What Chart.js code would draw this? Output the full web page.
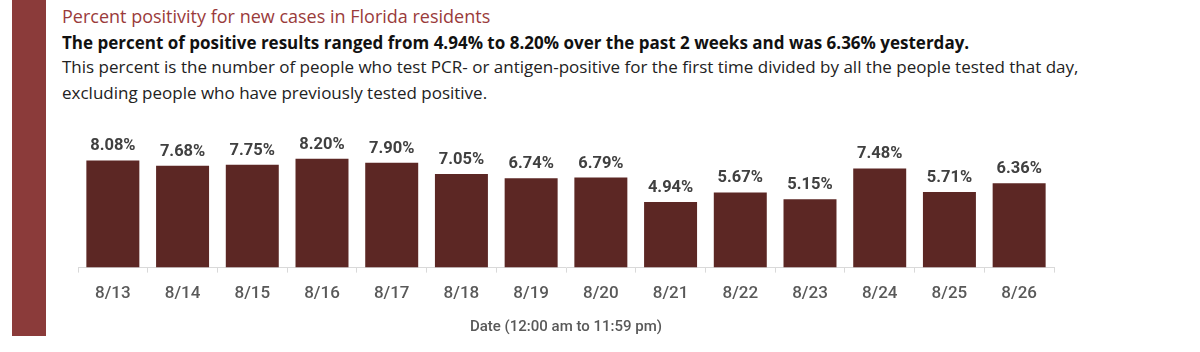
<!DOCTYPE html>
<html>
<head>
<meta charset="utf-8">
<script src="https://cdn.jsdelivr.net/npm/chart.js@4.4.1/dist/chart.umd.min.js"></script>
<style>
  html, body { margin: 0; padding: 0; background: #fff; }
  body { width: 1200px; height: 352px; position: relative; overflow: hidden; font-family: "Open Sans", Roboto, sans-serif; }
  #side { position: absolute; left: 12px; top: 0; width: 34px; height: 336px; background: #8b3b3a; }
  .line { position: absolute; left: 62px; white-space: nowrap; line-height: 1; }
  #t1 { top: 7px; font-size: 18px; color: #9a3b3b; }
  #t2 { top: 34px; font-size: 17px; font-weight: bold; color: #111; }
  #t3 { top: 58px; font-size: 17px; color: #222; }
  #t4 { top: 84px; font-size: 17px; color: #222; }
  #wrap { position: absolute; left: 0; top: 0; width: 1200px; height: 352px; }
</style>
</head>
<body>
<div id="side"></div>
<div class="line" id="t1">Percent positivity for new cases in Florida residents</div>
<div class="line" id="t2">The percent of positive results ranged from 4.94% to 8.20% over the past 2 weeks and was 6.36% yesterday.</div>
<div class="line" id="t3">This percent is the number of people who test PCR- or antigen-positive for the first time divided by all the people tested that day,</div>
<div class="line" id="t4">excluding people who have previously tested positive.</div>
<div id="wrap"><canvas id="myChart" width="1200" height="352"></canvas></div>
<script>
const labels = ['8/13', '8/14', '8/15', '8/16', '8/17', '8/18', '8/19', '8/20', '8/21', '8/22', '8/23', '8/24', '8/25', '8/26'];
const positivity = [8.08, 7.68, 7.75, 8.20, 7.90, 7.05, 6.74, 6.79, 4.94, 5.67, 5.15, 7.48, 5.71, 6.36];
const axisTitle = 'Date (12:00 am to 11:59 pm)';

// labels above the bars, no datalabels plugin available
const barLabels = {
  id: 'barLabels',
  afterDatasetsDraw(chart) {
    const ctx = chart.ctx;
    ctx.save();
    ctx.font = 'bold 16.5px Roboto';
    ctx.fillStyle = '#404040';
    ctx.textAlign = 'center';
    ctx.textBaseline = 'alphabetic';
    chart.getDatasetMeta(0).data.forEach((bar, i) => {
      ctx.fillText(positivity[i].toFixed(2) + '%', bar.x, bar.y - 10);
    });
    ctx.restore();
  }
};

const chart = new Chart(document.getElementById('myChart'), {
  type: 'bar',
  data: {
    labels: labels,
    datasets: [{
      data: positivity,
      backgroundColor: '#5c2724',
      barPercentage: 0.76,
      categoryPercentage: 1
    }]
  },
  options: {
    responsive: false,
    animation: false,
    layout: { padding: { left: 78, right: 146, top: 135, bottom: 12 } },
    plugins: { legend: { display: false }, tooltip: { enabled: false } },
    scales: {
      y: { display: false, min: 0, max: 10 },
      x: {
        grid: { offset: true, drawOnChartArea: false, tickLength: 5, color: '#d9d9d9' },
        border: { color: '#d9d9d9' },
        ticks: { color: '#595959', font: { family: 'Roboto', size: 17, weight: '500' }, padding: 11 },
        title: {
          display: true, text: axisTitle, color: '#595959',
          font: { family: 'Roboto', size: 15, weight: '500' }, padding: { top: 3, bottom: 4 }
        }
      }
    }
  },
  plugins: [barLabels]
});
</script>
</body>
</html>
